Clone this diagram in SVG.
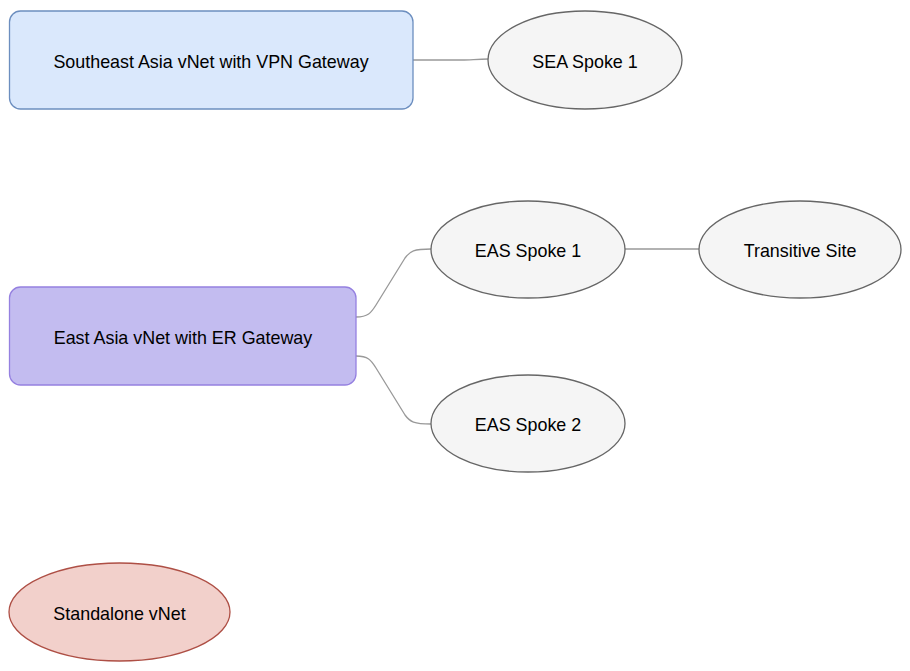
<svg xmlns="http://www.w3.org/2000/svg" width="910" height="671" viewBox="0 0 910 671">
<style>
text{font-family:"Liberation Sans",Arial,sans-serif;font-size:17.9px;fill:#000;text-anchor:middle;dominant-baseline:central}
.gray{fill:#f5f5f5;stroke:#666;stroke-width:1.3}
.edge{fill:none;stroke:#999;stroke-width:1.3}
</style>
<rect width="910" height="671" fill="#fff"/>
<g id="connectors">
<path class="edge" d="M413,60 L462,60 C470,60 478,59 488,59"/>
<path class="edge" d="M356,317 C368,317 371,313 376,305 L405,258 C410,251 414,249 431,249"/>
<path class="edge" d="M356,356 C368,356 371,360 376,368 L405,415 C410,422 414,424 431,424"/>
<path class="edge" d="M625,249 L699,249"/>
</g>
<g id="sea-vnet">
<rect x="9.5" y="11" width="403.5" height="98" rx="11" fill="#dae8fc" stroke="#6c8ebf" stroke-width="1.3"/>
<text x="211" y="62">Southeast Asia vNet with VPN Gateway</text>
</g>
<g id="sea-spoke-1">
<ellipse class="gray" cx="585" cy="60" rx="97" ry="49"/>
<text x="585" y="62">SEA Spoke 1</text>
</g>
<g id="ea-vnet">
<rect x="9.5" y="287" width="346.5" height="98" rx="11" fill="#c3bcf0" stroke="#9580e0" stroke-width="1.3"/>
<text x="183" y="338">East Asia vNet with ER Gateway</text>
</g>
<g id="eas-spoke-1">
<ellipse class="gray" cx="528" cy="249.5" rx="97" ry="48.5"/>
<text x="528" y="251">EAS Spoke 1</text>
</g>
<g id="transitive-site">
<ellipse class="gray" cx="800" cy="249.5" rx="101" ry="48.5"/>
<text x="800" y="251">Transitive Site</text>
</g>
<g id="eas-spoke-2">
<ellipse class="gray" cx="528" cy="423.5" rx="97" ry="48.5"/>
<text x="528" y="425">EAS Spoke 2</text>
</g>
<g id="standalone-vnet">
<ellipse cx="119.5" cy="612" rx="110.5" ry="49" fill="#f2d0cb" stroke="#ae4f45" stroke-width="1.3"/>
<text x="119.5" y="614">Standalone vNet</text>
</g>
</svg>
